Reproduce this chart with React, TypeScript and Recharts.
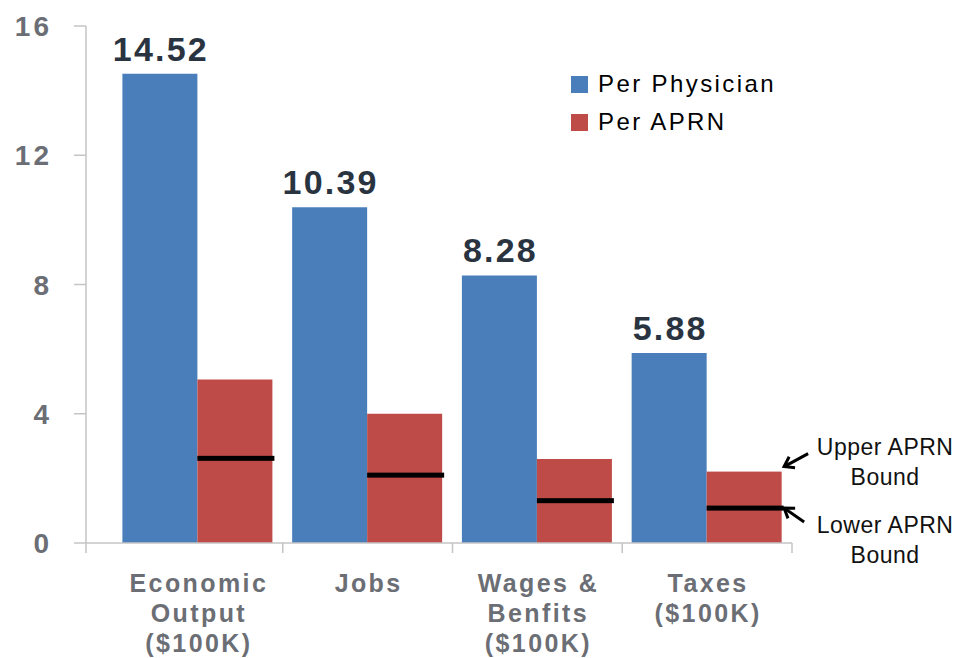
import { BarChart, Bar, XAxis, YAxis, LabelList, ReferenceDot } from "recharts";

const categories = ["Economic Output ($100K)", "Jobs", "Wages & Benfits ($100K)", "Taxes ($100K)"];
const categoryLines = [
  ["Economic", "Output", "($100K)"],
  ["Jobs"],
  ["Wages &", "Benfits", "($100K)"],
  ["Taxes", "($100K)"],
];
const perPhysician = [14.52, 10.39, 8.28, 5.88];
const aprnUpper = [5.06, 4.0, 2.6, 2.21];
const aprnLower = [2.62, 2.1, 1.31, 1.08];
const yTicks = [0, 4, 8, 12, 16];

const data = categories.map((name, i) => ({
  name,
  physician: perPhysician[i],
  aprn: aprnUpper[i],
  lower: aprnLower[i],
}));

const W = 959;
const H = 658;
const MARGIN = { top: 26, right: 167, bottom: 0, left: 0 };
const Y_AXIS_W = 86;
const PAD_LEFT = 27;
const BAND = (W - MARGIN.right - Y_AXIS_W - PAD_LEFT) / categories.length;

const GRAY = "#6b6e74";
const AXIS = "#c4c4c4";
const FONT = "'Liberation Sans', Arial, Helvetica, sans-serif";

const XTick = (props: any) => {
  const { x, y, payload } = props;
  const idx = payload.index;
  const lines = categoryLines[idx] || [];
  return (
    <g>
      <line x1={x + BAND / 2} x2={x + BAND / 2} y1={y} y2={y + 10} stroke={AXIS} strokeWidth={1.5} />
      {idx === 0 && (
        <line
          x1={x - BAND / 2 - PAD_LEFT}
          x2={x - BAND / 2 - PAD_LEFT}
          y1={y}
          y2={y + 10}
          stroke={AXIS}
          strokeWidth={1.5}
        />
      )}
      <text
        x={x + 1}
        y={y + 49}
        textAnchor="middle"
        fill={GRAY}
        fontFamily={FONT}
        fontWeight={700}
        fontSize={25}
        letterSpacing={2.4}
      >
        {lines.map((l, i) => (
          <tspan key={i} x={x + 1} dy={i === 0 ? 0 : 30}>
            {l}
          </tspan>
        ))}
      </text>
    </g>
  );
};

const YTick = (props: any) => {
  const { x, y, payload } = props;
  return (
    <text
      x={x + 3}
      y={y}
      dy={10}
      textAnchor="end"
      fill={GRAY}
      fontFamily={FONT}
      fontWeight={700}
      fontSize={28}
      letterSpacing={3}
    >
      {payload.value}
    </text>
  );
};

const AprnBar = (props: any) => {
  const { x, y, width, height, payload, fill } = props;
  const lowerY = y + height - (height * payload.lower) / payload.aprn;
  return (
    <g>
      <rect x={x} y={y} width={width} height={height} fill={fill} />
      <rect x={x} y={lowerY - 2.5} width={width + 2} height={5} fill="#000" />
    </g>
  );
};

const ValueLabel = (props: any) => {
  const { x, y, width, value } = props;
  return (
    <text
      x={x + width / 2 + 1}
      y={y - 13}
      textAnchor="middle"
      fill="#2a3441"
      fontFamily={FONT}
      fontWeight={700}
      fontSize={34}
      letterSpacing={2.2}
    >
      {Number(value).toFixed(2)}
    </text>
  );
};

const arrowHead = (tx: number, ty: number, fx: number, fy: number) => {
  const ang = Math.atan2(fy - ty, fx - tx);
  const len = 11;
  const a1 = ang + 0.6;
  const a2 = ang - 0.6;
  return `M${tx + len * Math.cos(a1)},${ty + len * Math.sin(a1)} L${tx},${ty} L${tx + len * Math.cos(a2)},${ty + len * Math.sin(a2)}`;
};

const Note = ({ cx, cy, lines, tip, tail, textY }: any) => {
  const tx = cx + tip[0];
  const ty = cy + tip[1];
  const fx = cx + tail[0];
  const fy = cy + tail[1];
  return (
    <g>
      <line x1={fx} y1={fy} x2={tx} y2={ty} stroke="#000" strokeWidth={3} />
      <path d={arrowHead(tx, ty, fx, fy)} fill="none" stroke="#000" strokeWidth={3} />
      <text x={cx + 178} y={cy + textY} textAnchor="middle" fill="#111" fontFamily={FONT} fontSize={23} letterSpacing={0.5}>
        {lines.map((l: string, i: number) => (
          <tspan key={i} x={cx + 178} dy={i === 0 ? 0 : 30}>
            {l}
          </tspan>
        ))}
      </text>
    </g>
  );
};

const last = categories.length - 1;

export default function App() {
  return (
    <div style={{ position: "absolute", left: 0, top: 0, width: W, height: H, background: "#fff" }}>
      <BarChart width={W} height={H} data={data} margin={MARGIN} barCategoryGap={9.4} barGap={0}>
        <XAxis
          dataKey="name"
          interval={0}
          height={H - 543 - MARGIN.bottom}
          padding={{ left: PAD_LEFT, right: 0 }}
          tickSize={0}
          tickMargin={0}
          tick={<XTick />}
          axisLine={{ stroke: AXIS, strokeWidth: 1.5 }}
        />
        <YAxis
          domain={[0, 16]}
          ticks={yTicks}
          width={Y_AXIS_W}
          tickSize={12}
          tickMargin={25}
          tick={<YTick />}
          tickLine={{ stroke: AXIS, strokeWidth: 1.5 }}
          axisLine={{ stroke: AXIS, strokeWidth: 1.5 }}
        />
        <Bar dataKey="physician" fill="#4a7ebb" isAnimationActive={false}>
          <LabelList dataKey="physician" content={<ValueLabel />} />
        </Bar>
        <Bar dataKey="aprn" fill="#be4b48" shape={<AprnBar />} isAnimationActive={false} />
        <ReferenceDot
          x={categories[last]}
          y={aprnUpper[last]}
          ifOverflow="visible"
          shape={(p: any) => (
            <Note cx={p.cx} cy={p.cy} lines={["Upper APRN", "Bound"]} tip={[77, -5]} tail={[101, -18]} textY={-17} />
          )}
        />
        <ReferenceDot
          x={categories[last]}
          y={aprnLower[last]}
          ifOverflow="visible"
          shape={(p: any) => (
            <Note cx={p.cx} cy={p.cy} lines={["Lower APRN", "Bound"]} tip={[77, 0]} tail={[97, 14]} textY={25} />
          )}
        />
      </BarChart>
      <div
        style={{
          position: "absolute",
          left: 571,
          top: 65,
          fontFamily: FONT,
          fontSize: 24,
          letterSpacing: 2.4,
          color: "#000",
        }}
      >
        {[
          { label: "Per Physician", color: "#4a7ebb" },
          { label: "Per APRN", color: "#be4b48" },
        ].map((item) => (
          <div key={item.label} style={{ display: "flex", alignItems: "center", height: 38 }}>
            <span style={{ width: 17, height: 17, background: item.color, marginRight: 10, display: "inline-block" }} />
            <span>{item.label}</span>
          </div>
        ))}
      </div>
    </div>
  );
}
